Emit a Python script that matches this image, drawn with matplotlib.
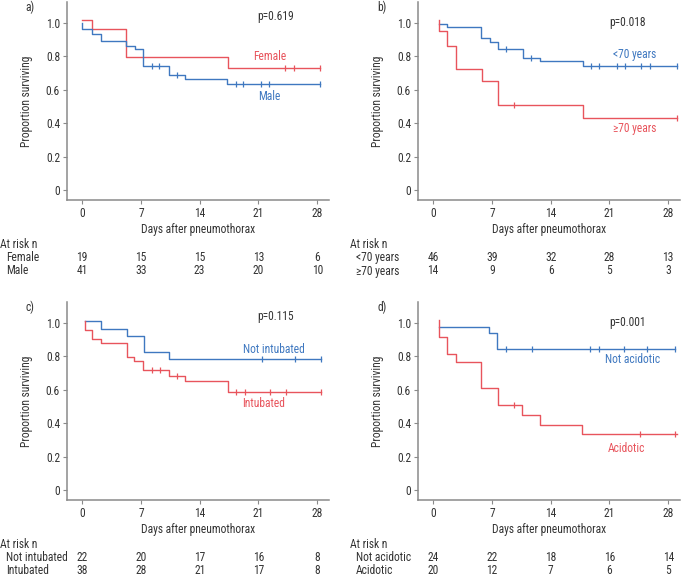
import numpy as np
import matplotlib
matplotlib.use('Agg')
import matplotlib.pyplot as plt
from matplotlib import font_manager

# pick a narrow font if there is one
names = {f.name for f in font_manager.fontManager.ttflist}
fam = [n for n in ['Liberation Sans Narrow', 'Roboto Condensed', 'Roboto'] if n in names]
plt.rcParams['font.family'] = fam + ['DejaVu Sans']

RED = '#e8545c'
BLUE = '#3f78c0'
GREY = '#8a8a8a'
TXT = '#333333'

# ---- data ----
# a) sex
female_t = [0, 1.15, 5.25, 17.35, 28.3]
female_s = [1.02, 0.964, 0.795, 0.732, 0.732]
female_cens = [24.2, 25.2, 28.3]
male_t = [0, 0, 1.15, 2.26, 5.25, 6.3, 7.3, 10.3, 12.3, 17.2, 28.3]
male_s = [1.0, 0.962, 0.936, 0.894, 0.862, 0.842, 0.74, 0.69, 0.663, 0.635, 0.635]
male_cens = [8.3, 9.2, 11.3, 18.3, 19.2, 21.3, 22.3, 28.3]

# b) age
young_t = [0.68, 1.68, 5.68, 6.72, 7.76, 10.72, 12.72, 17.88, 29.0]
young_s = [0.996, 0.978, 0.91, 0.886, 0.844, 0.792, 0.772, 0.744, 0.744]
young_cens = [8.72, 11.6, 18.8, 19.8, 21.84, 22.8, 24.8, 25.88, 29.0]
old_t = [0.68, 0.68, 1.68, 2.76, 5.88, 7.76, 17.8, 29.0]
old_s = [1.02, 0.95, 0.864, 0.724, 0.652, 0.51, 0.43, 0.43]
old_cens = [9.68, 29.0]

# c) intubation
notint_t = [0.3, 2.23, 5.3, 7.37, 10.4, 28.4]
notint_s = [1.014, 0.966, 0.92, 0.826, 0.784, 0.784]
notint_cens = [21.4, 25.4, 28.4]
int_t = [0.3, 0.3, 1.23, 2.23, 5.3, 6.2, 7.3, 10.4, 12.27, 17.37, 28.4]
int_s = [1.014, 0.96, 0.906, 0.88, 0.794, 0.77, 0.716, 0.684, 0.652, 0.584, 0.584]
int_cens = [8.3, 9.3, 11.35, 18.3, 19.4, 22.35, 24.3, 28.4]

# d) acidosis
notac_t = [0.68, 6.68, 7.6, 28.8]
notac_s = [0.974, 0.938, 0.844, 0.844]
notac_cens = [8.72, 11.8, 18.7, 19.8, 22.7, 25.5, 28.8]
ac_t = [0.68, 0.68, 1.68, 2.72, 5.68, 7.68, 10.6, 12.7, 17.7, 29.0]
ac_s = [1.02, 0.914, 0.816, 0.766, 0.61, 0.506, 0.45, 0.388, 0.334, 0.334]
ac_cens = [9.68, 24.6, 28.8]

xticks = [0, 7, 14, 21, 28]
yticks = [0, 0.2, 0.4, 0.6, 0.8, 1.0]
ytick_labels = ['0', '0.2', '0.4', '0.6', '0.8', '1.0']

risk_a = {'Female': [19, 15, 15, 13, 6], 'Male': [41, 33, 23, 20, 10]}
risk_b = {'<70 years': [46, 39, 32, 28, 13], '\u226570 years': [14, 9, 6, 5, 3]}
risk_c = {'Not intubated': [22, 20, 17, 16, 8], 'Intubated': [38, 28, 21, 17, 8]}
risk_d = {'Not acidotic': [24, 22, 18, 16, 14], 'Acidotic': [20, 12, 7, 6, 5]}

W, H = 683, 587
FS = 8.3


def fx(px):
    return px / W


def fy(py):
    return 1 - py / H


def surv_at(t, s, x):
    idx = np.searchsorted(np.array(t), x, side='right') - 1
    return np.array(s)[np.clip(idx, 0, len(s) - 1)]


def draw_curve(ax, t, s, cens, color):
    ax.step(t, s, where='post', color=color, lw=1.0)
    ax.plot(cens, surv_at(t, s, cens), ls='none', marker='|', ms=5,
            mew=0.9, color=color)


def make_panel(left, top, letter, curves, pval, ppos, labels, risk, label_x, table_x):
    ax = fig.add_axes([fx(left), fy(top + 198), fx(262), 198 / H])
    for t, s, c, col in curves:
        draw_curve(ax, t, s, c, col)
    ax.set_xlim(-1.8, 29.4)
    ax.set_ylim(-0.06, 1.125)
    ax.set_xticks(xticks)
    ax.set_yticks(yticks)
    ax.set_yticklabels(ytick_labels)
    for sp in ['top', 'right']:
        ax.spines[sp].set_visible(False)
    for sp in ['left', 'bottom']:
        ax.spines[sp].set_color(GREY)
        ax.spines[sp].set_linewidth(1.1)
    ax.tick_params(length=3, width=0.8, color=GREY, labelsize=FS,
                   labelcolor=TXT, pad=2)
    ax.set_ylabel('Proportion surviving', fontsize=FS, color=TXT, labelpad=9)
    ax.set_xlabel('Days after pneumothorax', fontsize=FS, color=TXT, labelpad=2.5)
    fig.text(fx(label_x), fy(top + 5), letter, fontsize=FS, color=TXT,
             ha='left', va='center')
    ax.text(ppos[0], ppos[1], pval, fontsize=FS, color=TXT, ha='center',
            va='center')
    for txt, x, y, col in labels:
        ax.text(x, y, txt, fontsize=FS, color=col, ha='center', va='center')

    # at-risk table under the panel
    row0 = top + 242
    fig.text(fx(table_x), fy(row0), 'At risk n', fontsize=FS,
             color=TXT, ha='left', va='center')
    tr = matplotlib.transforms.blended_transform_factory(ax.transData,
                                                         fig.transFigure)
    for i, (name, vals) in enumerate(risk.items()):
        yy = fy(row0 + 13.5 * (i + 1))
        fig.text(fx(table_x + 6), yy, name, fontsize=FS, color=TXT,
                 ha='left', va='center')
        for xt, v in zip(xticks, vals):
            ax.text(xt, yy, str(v), transform=tr, fontsize=FS, color=TXT,
                    ha='center', va='center')
    return ax


fig = plt.figure(figsize=(W / 100, H / 100), dpi=100)

make_panel(67, 2, 'a)',
           [(female_t, female_s, female_cens, RED),
            (male_t, male_s, male_cens, BLUE)],
           'p=0.619', (23.0, 1.04),
           [('Female', 22.3, 0.80, RED), ('Male', 22.3, 0.56, BLUE)],
           risk_a, 25, 0)
make_panel(418, 2, 'b)',
           [(young_t, young_s, young_cens, BLUE),
            (old_t, old_s, old_cens, RED)],
           'p=0.018', (23.2, 1.0),
           [('<70 years', 24.0, 0.81, BLUE), ('\u226570 years', 24.0, 0.37, RED)],
           risk_b, 377, 350)
make_panel(67, 302, 'c)',
           [(notint_t, notint_s, notint_cens, BLUE),
            (int_t, int_s, int_cens, RED)],
           'p=0.115', (23.0, 1.04),
           [('Not intubated', 22.8, 0.84, BLUE), ('Intubated', 21.6, 0.52, RED)],
           risk_c, 25, 0)
make_panel(418, 302, 'd)',
           [(notac_t, notac_s, notac_cens, BLUE),
            (ac_t, ac_s, ac_cens, RED)],
           'p=0.001', (23.2, 1.0),
           [('Not acidotic', 23.8, 0.78, BLUE), ('Acidotic', 23.0, 0.25, RED)],
           risk_d, 377, 350)

fig.savefig('out.png', dpi=100)
